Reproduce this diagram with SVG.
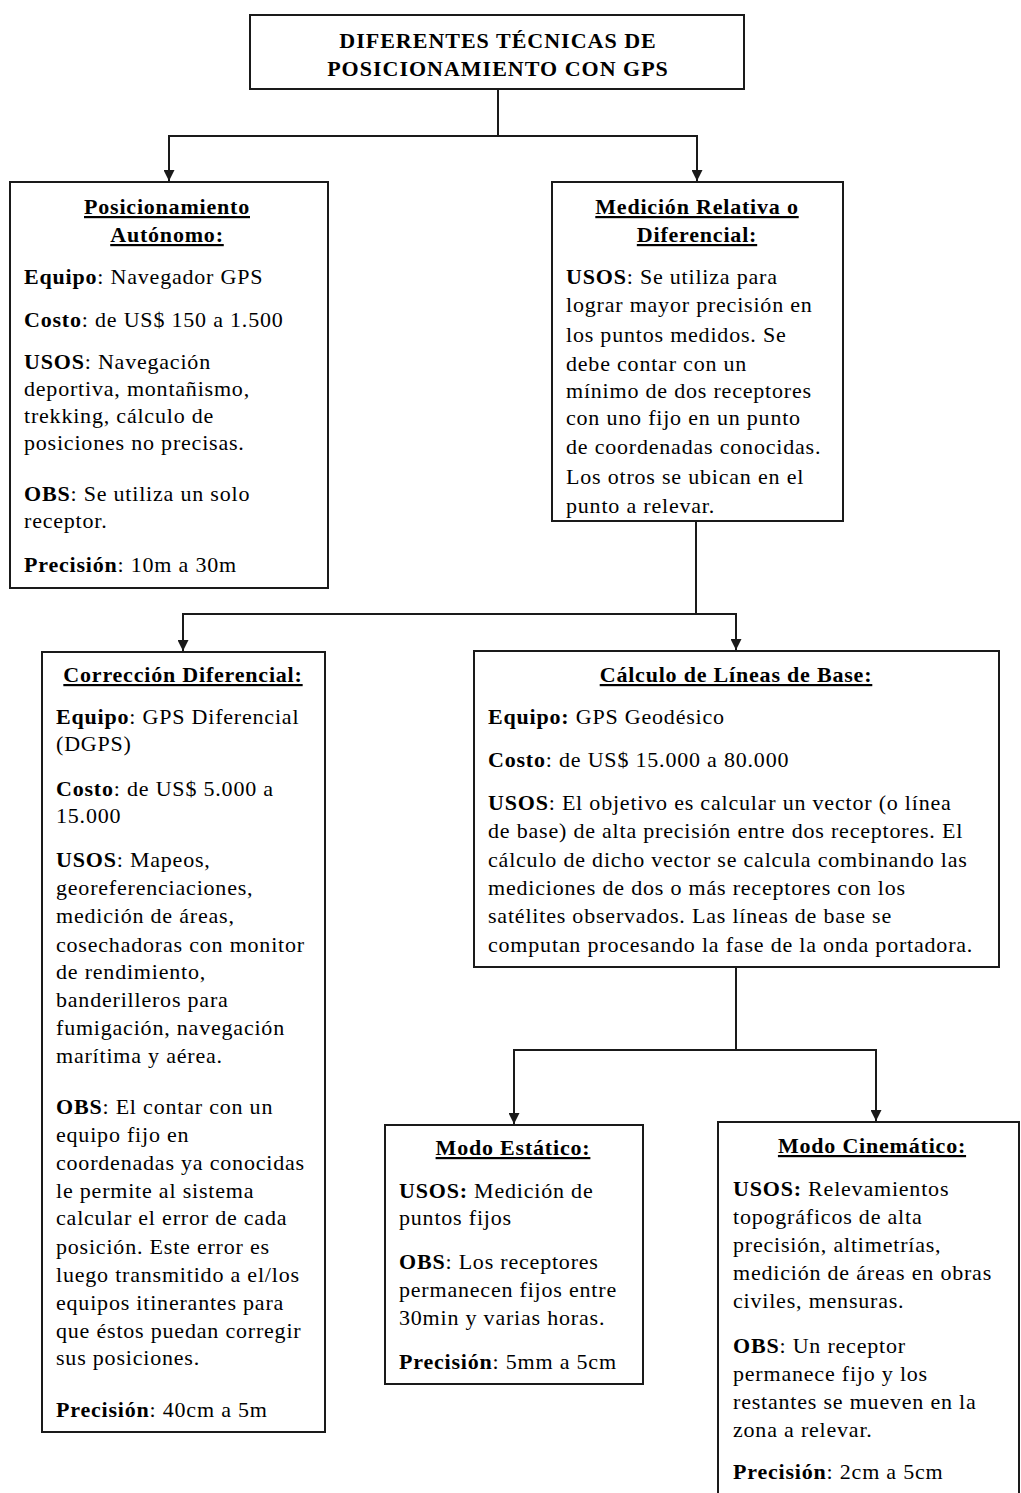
<svg xmlns="http://www.w3.org/2000/svg" width="1021" height="1493" viewBox="0 0 1021 1493" font-family="Liberation Serif, DejaVu Serif, serif">
  <style>
    .box { fill: #fff; stroke: #1a1a1a; stroke-width: 2; }
    .conn { fill: none; stroke: #1a1a1a; stroke-width: 2; }
    .tx { font-size: 22px; fill: #000; letter-spacing: 0.8px; }
    .b { font-weight: bold; }
    .h { font-weight: bold; text-decoration: underline; text-anchor: middle; }
    .title { font-weight: bold; text-anchor: middle; letter-spacing: 1px; }
  </style>
  <defs>
    <marker id="arrow" viewBox="0 0 10 10" refX="10" refY="5" markerWidth="11" markerHeight="11" markerUnits="userSpaceOnUse" orient="auto">
      <path d="M0,0 L10,5 L0,10 z" fill="#1a1a1a"/>
    </marker>
  </defs>

  <!-- connectors -->
  <g id="connectors">
    <path class="conn" d="M498,89 V136 H169 V181" marker-end="url(#arrow)"/>
    <path class="conn" d="M498,136 H697 V181" marker-end="url(#arrow)"/>
    <path class="conn" d="M696,521 V614 H183 V651" marker-end="url(#arrow)"/>
    <path class="conn" d="M696,614 H736 V650" marker-end="url(#arrow)"/>
    <path class="conn" d="M736,967 V1050 H514 V1124" marker-end="url(#arrow)"/>
    <path class="conn" d="M736,1050 H876 V1121" marker-end="url(#arrow)"/>
  </g>

  <g class="tx" font-family="Liberation Serif, serif">
  <!-- root: title -->
  <g id="node-title">
    <rect class="box" x="250" y="15" width="494" height="74"/>
    <text class="title" x="498" y="48">DIFERENTES TÉCNICAS DE</text>
    <text class="title" x="498" y="76">POSICIONAMIENTO CON GPS</text>
  </g>

  <!-- autonomous positioning -->
  <g id="node-autonomo">
    <rect class="box" x="10" y="182" width="318" height="406"/>
    <text class="h" x="167" y="214">Posicionamiento</text>
    <text class="h" x="167" y="242">Autónomo:</text>
    <text x="24" y="284"><tspan class="b">Equipo</tspan>: Navegador GPS</text>
    <text x="24" y="327"><tspan class="b">Costo</tspan>: de US$ 150 a 1.500</text>
    <text x="24" y="369"><tspan class="b">USOS</tspan>: Navegación</text>
    <text x="24" y="396">deportiva, montañismo,</text>
    <text x="24" y="423">trekking, cálculo de</text>
    <text x="24" y="450">posiciones no precisas.</text>
    <text x="24" y="501"><tspan class="b">OBS</tspan>: Se utiliza un solo</text>
    <text x="24" y="528">receptor.</text>
    <text x="24" y="572"><tspan class="b">Precisión</tspan>: 10m a 30m</text>
  </g>

  <!-- relative / differential measurement -->
  <g id="node-relativa">
    <rect class="box" x="552" y="182" width="291" height="339"/>
    <text class="h" x="697" y="214">Medición Relativa o</text>
    <text class="h" x="697" y="242">Diferencial:</text>
    <text x="566" y="284"><tspan class="b">USOS</tspan>: Se utiliza para</text>
    <text x="566" y="312">lograr mayor precisión en</text>
    <text x="566" y="342">los puntos medidos. Se</text>
    <text x="566" y="371">debe contar con un</text>
    <text x="566" y="398">mínimo de dos receptores</text>
    <text x="566" y="425">con uno fijo en un punto</text>
    <text x="566" y="454">de coordenadas conocidas.</text>
    <text x="566" y="484">Los otros se ubican en el</text>
    <text x="566" y="513">punto a relevar.</text>
  </g>

  <!-- differential correction -->
  <g id="node-correccion">
    <rect class="box" x="42" y="652" width="283" height="780"/>
    <text class="h" x="183" y="682">Corrección Diferencial:</text>
    <text x="56" y="724"><tspan class="b">Equipo</tspan>: GPS Diferencial</text>
    <text x="56" y="751">(DGPS)</text>
    <text x="56" y="796"><tspan class="b">Costo</tspan>: de US$ 5.000 a</text>
    <text x="56" y="823">15.000</text>
    <text x="56" y="867"><tspan class="b">USOS</tspan>: Mapeos,</text>
    <text x="56" y="895">georeferenciaciones,</text>
    <text x="56" y="923">medición de áreas,</text>
    <text x="56" y="952">cosechadoras con monitor</text>
    <text x="56" y="979">de rendimiento,</text>
    <text x="56" y="1007">banderilleros para</text>
    <text x="56" y="1035">fumigación, navegación</text>
    <text x="56" y="1063">marítima y aérea.</text>
    <text x="56" y="1114"><tspan class="b">OBS</tspan>: El contar con un</text>
    <text x="56" y="1142">equipo fijo en</text>
    <text x="56" y="1170">coordenadas ya conocidas</text>
    <text x="56" y="1198">le permite al sistema</text>
    <text x="56" y="1225">calcular el error de cada</text>
    <text x="56" y="1254">posición. Este error es</text>
    <text x="56" y="1282">luego transmitido a el/los</text>
    <text x="56" y="1310">equipos itinerantes para</text>
    <text x="56" y="1338">que éstos puedan corregir</text>
    <text x="56" y="1365">sus posiciones.</text>
    <text x="56" y="1417"><tspan class="b">Precisión</tspan>: 40cm a 5m</text>
  </g>

  <!-- baseline computation -->
  <g id="node-lineas-base">
    <rect class="box" x="474" y="651" width="525" height="316"/>
    <text class="h" x="736" y="682">Cálculo de Líneas de Base:</text>
    <text x="488" y="724"><tspan class="b">Equipo:</tspan> GPS Geodésico</text>
    <text x="488" y="767"><tspan class="b">Costo</tspan>: de US$ 15.000 a 80.000</text>
    <text x="488" y="810"><tspan class="b">USOS</tspan>: El objetivo es calcular un vector (o línea</text>
    <text x="488" y="838">de base) de alta precisión entre dos receptores. El</text>
    <text x="488" y="867">cálculo de dicho vector se calcula combinando las</text>
    <text x="488" y="895">mediciones de dos o más receptores con los</text>
    <text x="488" y="923">satélites observados. Las líneas de base se</text>
    <text x="488" y="952">computan procesando la fase de la onda portadora.</text>
  </g>

  <!-- static mode -->
  <g id="node-estatico">
    <rect class="box" x="385" y="1125" width="258" height="259"/>
    <text class="h" x="513" y="1155">Modo Estático:</text>
    <text x="399" y="1198"><tspan class="b">USOS:</tspan> Medición de</text>
    <text x="399" y="1225">puntos fijos</text>
    <text x="399" y="1269"><tspan class="b">OBS</tspan>: Los receptores</text>
    <text x="399" y="1297">permanecen fijos entre</text>
    <text x="399" y="1325">30min y varias horas.</text>
    <text x="399" y="1369"><tspan class="b">Precisión</tspan>: 5mm a 5cm</text>
  </g>

  <!-- kinematic mode -->
  <g id="node-cinematico">
    <rect class="box" x="718" y="1122" width="301" height="400"/>
    <text class="h" x="872" y="1153">Modo Cinemático:</text>
    <text x="733" y="1196"><tspan class="b">USOS:</tspan> Relevamientos</text>
    <text x="733" y="1224">topográficos de alta</text>
    <text x="733" y="1252">precisión, altimetrías,</text>
    <text x="733" y="1280">medición de áreas en obras</text>
    <text x="733" y="1308">civiles, mensuras.</text>
    <text x="733" y="1353"><tspan class="b">OBS</tspan>: Un receptor</text>
    <text x="733" y="1381">permanece fijo y los</text>
    <text x="733" y="1409">restantes se mueven en la</text>
    <text x="733" y="1437">zona a relevar.</text>
    <text x="733" y="1479"><tspan class="b">Precisión</tspan>: 2cm a 5cm</text>
  </g>
  </g>
</svg>
